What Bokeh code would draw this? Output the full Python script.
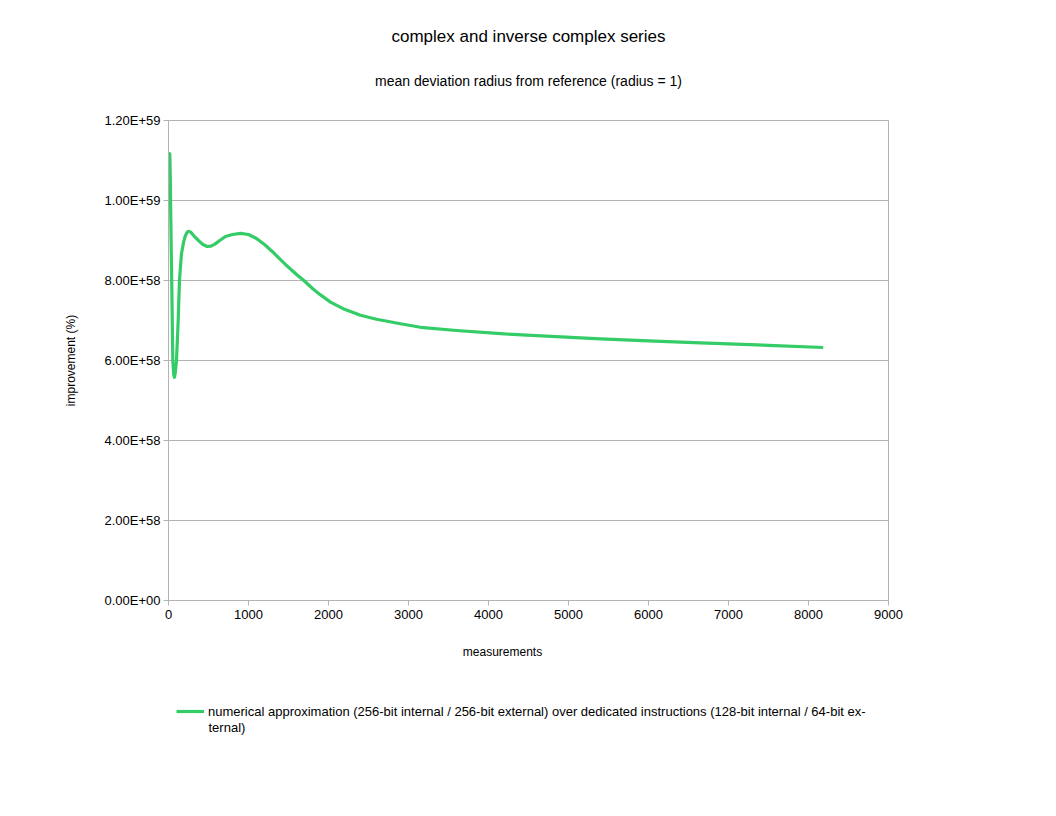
from bokeh.plotting import figure
from bokeh.layouts import column
from bokeh.models import (Label, FixedTicker, CustomJSTickFormatter, Range1d,
                          Legend, LegendItem)
from bokeh.embed import file_html
from bokeh.resources import INLINE

# ---- data ----
measurements = [1, 8, 16, 22, 29, 42, 54, 65, 75, 85, 100, 121, 137, 162, 185,
                204, 225, 246, 270, 295, 320, 350, 379, 430, 483, 530, 580,
                640, 712, 800, 900, 1000,
                1100, 1200, 1300, 1400, 1500, 1600, 1692, 1800, 1900, 2025,
                2200, 2400, 2600, 2900, 3150, 3600, 4150, 4600, 5400, 6000,
                6650, 7500, 8184]
improvement = [10.5e58, 11.1e58, 11.17e58, 10.6e58, 9.5e58, 7.75e58, 6.0e58,
               5.65e58, 5.58e58, 5.7e58, 6.0e58, 7.0e58, 8.0e58, 8.67e58,
               8.92e58, 9.08e58, 9.18e58, 9.23e58, 9.22e58, 9.17e58, 9.11e58,
               9.05e58, 8.99e58, 8.9e58, 8.85e58, 8.86e58, 8.91e58,
               9.0e58, 9.1e58, 9.15e58, 9.18e58, 9.15e58, 9.05e58, 8.9e58,
               8.72e58, 8.52e58, 8.33e58, 8.15e58, 8.0e58, 7.8e58, 7.64e58,
               7.46e58, 7.28e58, 7.13e58, 7.03e58, 6.92e58, 6.83e58, 6.75e58,
               6.67e58, 6.62e58, 6.54e58, 6.49e58, 6.44e58, 6.38e58, 6.325e58]
x_ticks = [0, 1000, 2000, 3000, 4000, 5000, 6000, 7000, 8000, 9000]
y_ticks = [0, 2e58, 4e58, 6e58, 8e58, 1e59, 1.2e59]

title_text = "complex and inverse complex series"
subtitle_text = "mean deviation radius from reference (radius = 1)"
x_label = "measurements"
y_label = "improvement (%)"
legend_line1 = ("numerical approximation (256-bit internal / 256-bit external) "
                "over dedicated instructions (128-bit internal / 64-bit ex-")
legend_line2 = "ternal)"

FONT = "Liberation Sans"
GRID = "#b3b3b3"
GREEN = "#33cc66"

W = 1040
TOP_H = 110
BOT_H = 160


def strip(height):
    s = figure(width=W, height=height, output_backend="svg",
               toolbar_location=None, x_axis_location=None,
               y_axis_location=None, min_border_left=168,
               min_border_right=152, min_border_top=0, min_border_bottom=0)
    s.outline_line_color = None
    s.grid.visible = False
    s.background_fill_color = "white"
    s.border_fill_color = "white"
    return s


# title strip
t = strip(TOP_H)
t.add_layout(Label(x=360, y=TOP_H - 36, x_units="screen", y_units="screen",
                   text=title_text, text_font=FONT, text_font_size="17px",
                   text_align="center", text_baseline="middle",
                   text_color="black"))
t.add_layout(Label(x=360, y=TOP_H - 80, x_units="screen", y_units="screen",
                   text=subtitle_text, text_font=FONT, text_font_size="14px",
                   text_align="center", text_baseline="middle",
                   text_color="black"))

# main chart
p = figure(width=W, height=640 - TOP_H, output_backend="svg",
           toolbar_location=None,
           x_range=Range1d(0, 9000), y_range=Range1d(0, 1.2e59),
           min_border_left=168, min_border_right=152,
           min_border_top=120 - TOP_H, min_border_bottom=40)
p.background_fill_color = "white"
p.border_fill_color = "white"
p.outline_line_color = GRID

line = p.line(measurements, improvement, line_color=GREEN, line_width=3.2,
              line_join="round")

p.xaxis.ticker = FixedTicker(ticks=x_ticks)
p.yaxis.ticker = FixedTicker(ticks=y_ticks)
p.yaxis.formatter = CustomJSTickFormatter(code="""
    if (Math.abs(tick) < 1) return "0.00E+00";
    let s = tick.toExponential(2).toUpperCase();
    const m = s.match(/E([+-])(\\d+)$/);
    if (m && m[2].length < 2) s = s.replace(/E([+-])(\\d+)$/, "E" + m[1] + "0" + m[2]);
    return s;
""")
for ax in (p.xaxis[0], p.yaxis[0]):
    ax.axis_line_color = GRID
    ax.major_tick_line_color = GRID
    ax.major_tick_in = 0
    ax.major_tick_out = 5
    ax.minor_tick_line_color = None
    ax.major_label_text_font = FONT
    ax.major_label_text_font_size = "13px"
    ax.major_label_text_color = "black"
    ax.axis_label_text_font = FONT
    ax.axis_label_text_font_size = "12px"
    ax.axis_label_text_font_style = "normal"
    ax.axis_label_text_color = "black"
p.yaxis.axis_label = y_label
p.xaxis.major_label_standoff = 4
p.yaxis.major_label_standoff = 3
p.yaxis.axis_label_standoff = 23

p.xgrid.grid_line_color = None
p.ygrid.grid_line_color = GRID
p.ygrid.grid_line_width = 1

# strip below the chart: x-axis title and legend
q = strip(BOT_H)
q.add_layout(Label(x=334, y=BOT_H - 11, x_units="screen", y_units="screen",
                   text=x_label, text_font=FONT, text_font_size="12px",
                   text_align="center", text_baseline="middle",
                   text_color="black"))
key = q.line(measurements, improvement, line_color=GREEN, line_width=3.2,
             visible=False)
legend = Legend(items=[LegendItem(label=legend_line1, renderers=[key])],
                location=(8, 79), orientation="vertical",
                border_line_color=None, background_fill_alpha=0,
                inactive_fill_alpha=0,
                padding=0, margin=0, glyph_width=28, glyph_height=20,
                label_standoff=4, label_text_font=FONT, label_height=20,
                label_text_font_size="13px", label_text_color="black")
q.add_layout(legend, "center")
q.add_layout(Label(x=40, y=73, x_units="screen", y_units="screen",
                   text=legend_line2, text_font=FONT, text_font_size="13px",
                   text_align="left", text_baseline="middle",
                   text_color="black"))

layout = column(t, p, q, spacing=0)
open("out.html", "w").write(file_html(layout, INLINE))
